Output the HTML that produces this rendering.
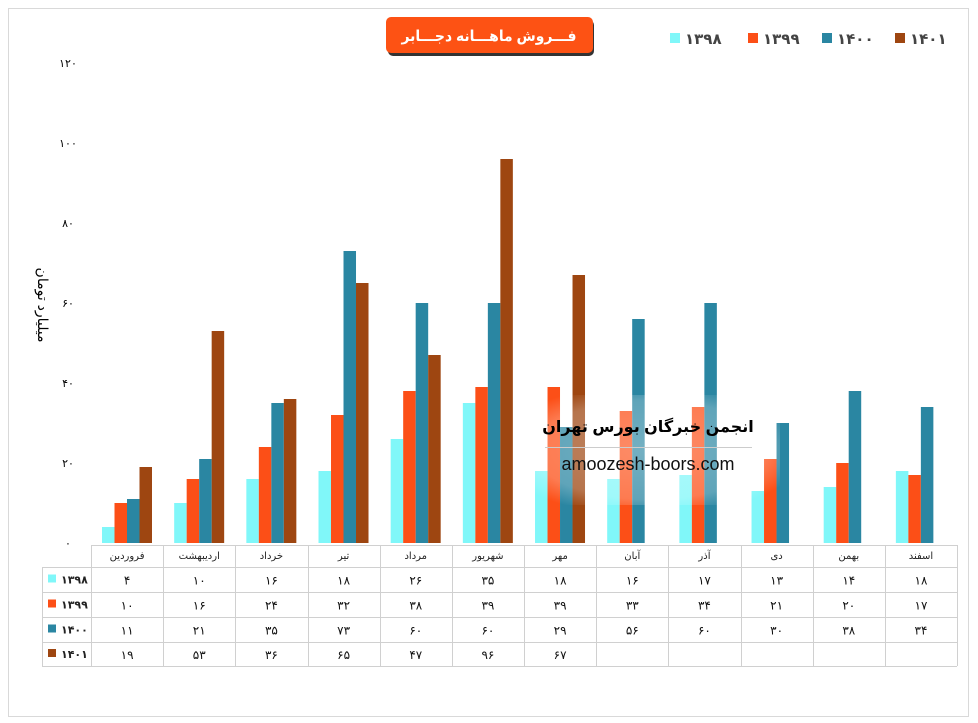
<!DOCTYPE html>
<html><head><meta charset="utf-8"><style>
html,body{margin:0;padding:0;background:#fff;width:978px;height:723px;overflow:hidden}
svg{display:block;font-family:"Liberation Sans","DejaVu Sans",sans-serif}
</style></head><body>
<svg id="s" width="978" height="723" viewBox="0 0 978 723" xmlns="http://www.w3.org/2000/svg">
<defs>
<radialGradient id="wm" cx="0.5" cy="0.5" r="0.6"><stop offset="0" stop-color="#fff" stop-opacity="0.35"/><stop offset="0.75" stop-color="#fff" stop-opacity="0.25"/><stop offset="1" stop-color="#fff" stop-opacity="0"/></radialGradient>
</defs>
<rect x="8.5" y="8.5" width="960" height="708" fill="#fff" stroke="#d9d9d9"/>
<g id="g"></g>
</svg>
<script>
const ns="http://www.w3.org/2000/svg",g=document.getElementById('g');
function el(t,a,txt){const e=document.createElementNS(ns,t);for(const k in a)e.setAttribute(k,a[k]);if(txt!=null)e.textContent=txt;g.appendChild(e);return e;}
const fa=n=>String(n).replace(/\d/g,d=>'۰۱۲۳۴۵۶۷۸۹'[d]);
const cols=['#80f7f9','#fc4f17','#2a86a2','#9e4611'];
const years=['1398','1399','1400','1401'];
const data=[[4,10,16,18,26,35,18,16,17,13,14,18],[10,16,24,32,38,39,39,33,34,21,20,17],[11,21,35,73,60,60,29,56,60,30,38,34],[19,53,36,65,47,96,67]];
const months=['فروردین','اردیبهشت','خرداد','تیر','مرداد','شهریور','مهر','آبان','آذر','دی','بهمن','اسفند'];
const x0=91,cw=72.17,y0=543,k=4;
for(let v=0;v<=120;v+=20)el('text',{x:68,y:y0-v*k+4,'font-size':11,'text-anchor':'middle',fill:'#000'},fa(v));
el('text',{x:0,y:0,'font-size':14,'text-anchor':'middle',transform:'translate(38,305) rotate(90)',fill:'#000'},'میلیارد تومان');
for(let s=0;s<4;s++)data[s].forEach((v,i)=>{el('rect',{x:x0+i*cw+11+s*12.5,y:y0-v*k,width:12.5,height:v*k,fill:cols[s]});});
const gl='#d0d0d0';
const rows=[545,567,592,617,642,666];
el('line',{x1:x0,y1:545.5,x2:957,y2:545.5,stroke:gl});
for(let r=1;r<6;r++)el('line',{x1:42,y1:rows[r]+.5,x2:957,y2:rows[r]+.5,stroke:gl});
el('line',{x1:42.5,y1:567,x2:42.5,y2:666,stroke:gl});
for(let i=0;i<=12;i++)el('line',{x1:Math.round(x0+i*cw)+.5,y1:545,x2:Math.round(x0+i*cw)+.5,y2:666,stroke:gl});
months.forEach((m,i)=>el('text',{x:x0+i*cw+cw/2,y:559,'font-size':10,'text-anchor':'middle',fill:'#222'},m));
for(let s=0;s<4;s++){const cy=(rows[s+1]+rows[s+2])/2;
 el('rect',{x:48,y:cy-5,width:8,height:8,fill:cols[s]});
 el('text',{x:61,y:cy+4,'font-size':11,'font-weight':'bold',fill:'#222'},fa(years[s]));
 data[s].forEach((v,i)=>el('text',{x:x0+i*cw+cw/2,y:cy+5,'font-size':12,'text-anchor':'middle',fill:'#111'},fa(v)));}
el('rect',{x:520,y:395,width:260,height:110,fill:'url(#wm)'});
el('line',{x1:545,y1:447.5,x2:752,y2:447.5,stroke:'#ccc'});
el('text',{x:648,y:432,'font-size':16,'font-weight':'bold','text-anchor':'middle',fill:'#000',direction:'rtl'},'انجمن خبرگان بورس تهران');
el('text',{x:648,y:470,'font-size':18,'text-anchor':'middle',fill:'#111'},'amoozesh-boors.com');
el('rect',{x:388,y:20,width:206,height:36,rx:5,fill:'#333'});
el('rect',{x:386,y:17,width:207,height:36,rx:5,fill:'#fd5214'});
el('text',{x:489,y:41,'font-size':15,'font-weight':'bold','text-anchor':'middle',fill:'#fff',direction:'rtl',textLength:175,lengthAdjust:'spacingAndGlyphs'},'فـــروش ماهـــانه دجـــابر');
const lx=[670,748,822,895];
for(let s=0;s<4;s++){el('rect',{x:lx[s],y:33,width:10,height:10,fill:cols[s]});
 el('text',{x:lx[s]+15,y:44,'font-size':15,'font-weight':'bold',fill:'#444'},fa(years[s]));}
</script>
</body></html>
